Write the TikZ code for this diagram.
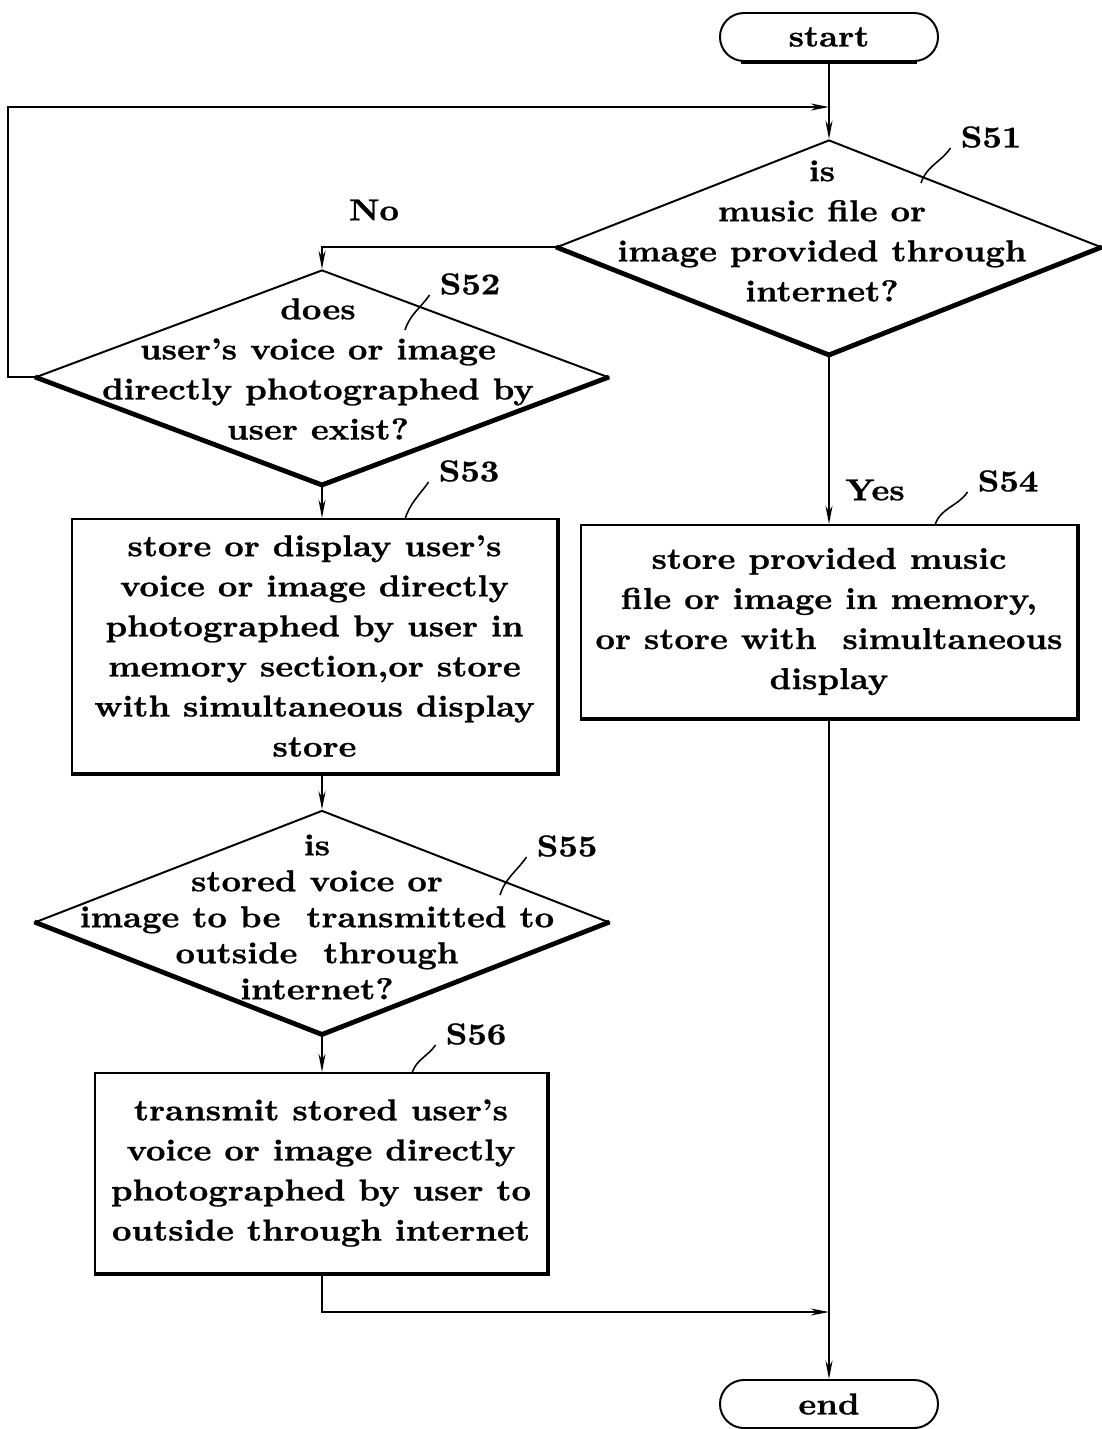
\documentclass[tikz,border=0pt]{standalone}
\usepackage{fontspec}
\newfontfamily\chartfont{lmroman10-bold.otf}[Ligatures=TeX,FakeStretch=1.12,FakeBold=0.8]
\usetikzlibrary{shapes.geometric}
\usetikzlibrary{arrows.meta}
\tikzset{
	chart text/.style={font=\chartfont\fontsize{21.5}{28.5}\selectfont, align=center},
	test node/.style={diamond, draw, line width=1.4pt, inner sep=0pt},
	work node/.style={rectangle, draw, line width=1.4pt, inner sep=0pt, chart text},
	term node/.style={rectangle, rounded corners=0.6cm, draw, line width=1.4pt, chart text,
		minimum width=5.45cm, minimum height=1.2cm},
	tag/.style={chart text, inner xsep=7pt, inner ysep=0pt},
	flow/.style={->, line width=1.4pt},
	lead/.style={line width=1.1pt, out=235, in=72},
	heavy/.style={line width=3.4pt, line join=miter}
}

\begin{document}
\begin{tikzpicture}[x=0.025cm, y=-0.025cm, >={Stealth[length=13pt,width=5pt]}]
	\useasboundingbox (0,0) rectangle (1101,1429);
	% start / stop
	\node[term node] (start) at (829,37) {start};
	\node[term node] (stop) at (829,1404) {end};
	% tests
	\node[test node, minimum width=13.6cm, minimum height=5.35cm] (s51) at (829,247) {};
	\node[chart text] (q51) at (822,231) {is\\music file or\\image provided through\\internet?};
	\node[test node, minimum width=14.3cm, minimum height=5.35cm] (s52) at (322,377) {};
	\node[chart text] (q52) at (318,369) {does\\user's voice or image\\directly photographed by\\user exist?};
	\node[test node, minimum width=14.325cm, minimum height=5.575cm] (s55) at (322,922) {};
	\node[chart text, font=\chartfont\fontsize{21.5}{25.6}\selectfont] (q55) at (317,917)
		{is\\stored voice or\\image to be~ transmitted to\\outside~ through\\internet?};
	% work boxes
	\node[work node, minimum width=12.125cm, minimum height=6.35cm] (s53) at (314.5,646)
		{store or display user's\\voice or image directly\\photographed by user in\\memory section,or store\\with simultaneous display\\store};
	\node[work node, minimum width=12.4cm, minimum height=4.825cm] (s54) at (829,621.5)
		{store provided music\\file or image in memory,\\or store with~ simultaneous\\display};
	\node[work node, minimum width=11.3cm, minimum height=5cm] (s56) at (321,1173)
		{transmit stored user's\\voice or image directly\\photographed by user to\\outside through internet};
	% heavy lower edges
	\draw[heavy] (s51.west) -- (s51.south) -- (s51.east);
	\draw[heavy] (s52.west) -- (s52.south) -- (s52.east);
	\draw[heavy] (s55.west) -- (s55.south) -- (s55.east);
	\draw[heavy] (s53.north east) -- (s53.south east) -- (s53.south west);
	\draw[heavy] (s54.north east) -- (s54.south east) -- (s54.south west);
	\draw[heavy] (s56.north east) -- (s56.south east) -- (s56.south west);
	\draw[heavy] ([xshift=0.55cm]start.south west) -- ([xshift=-0.55cm]start.south east);
	\draw[heavy] ([xshift=0.55cm]stop.south west) -- ([xshift=-0.55cm]stop.south east);
	% flow
	\coordinate (back) at (829,107);
	\coordinate (far) at (8,107);
	\coordinate (join) at (829,1312);
	\draw[flow] (start) -- (s51);
	\draw[flow] (s52.west) -| (far) -- (back);
	\draw[flow] (s51.west) -| (s52.north);
	\node[chart text] (no) at (374,210) {No};
	\draw[flow] (s51.south) -- (s51.south |- s54.north);
	\node[chart text] (yes) at (875,490) {Yes};
	\draw[flow] (s52.south) -- (s52.south |- s53.north);
	\draw[flow] (s55.north |- s53.south) -- (s55.north);
	\draw[flow] (s55.south) -- (s55.south |- s56.north);
	\draw[flow] (s56.south -| s55.south) |- (join);
	\draw[flow] (s54) -- (stop);
	% step tags
	\node[tag] (t51) at (991,137) {S51};
	\node[tag] (t52) at (470,284) {S52};
	\node[tag] (t53) at (469,471) {S53};
	\node[tag] (t54) at (1008,481) {S54};
	\node[tag] (t55) at (567,846) {S55};
	\node[tag] (t56) at (476,1034) {S56};
	\coordinate (k51) at (921,183);
	\coordinate (k52) at (405,330);
	\coordinate (k53) at (405,519);
	\coordinate (k54) at (935,525);
	\coordinate (k55) at (500,895);
	\coordinate (k56) at (412,1073);
	\draw[lead] (t51.south west) to (k51);
	\draw[lead] (t52.south west) to (k52);
	\draw[lead] (t53.south west) to (k53);
	\draw[lead] (t54.south west) to (k54);
	\draw[lead] (t55.south west) to (k55);
	\draw[lead] (t56.south west) to (k56);
\end{tikzpicture}
\end{document}
